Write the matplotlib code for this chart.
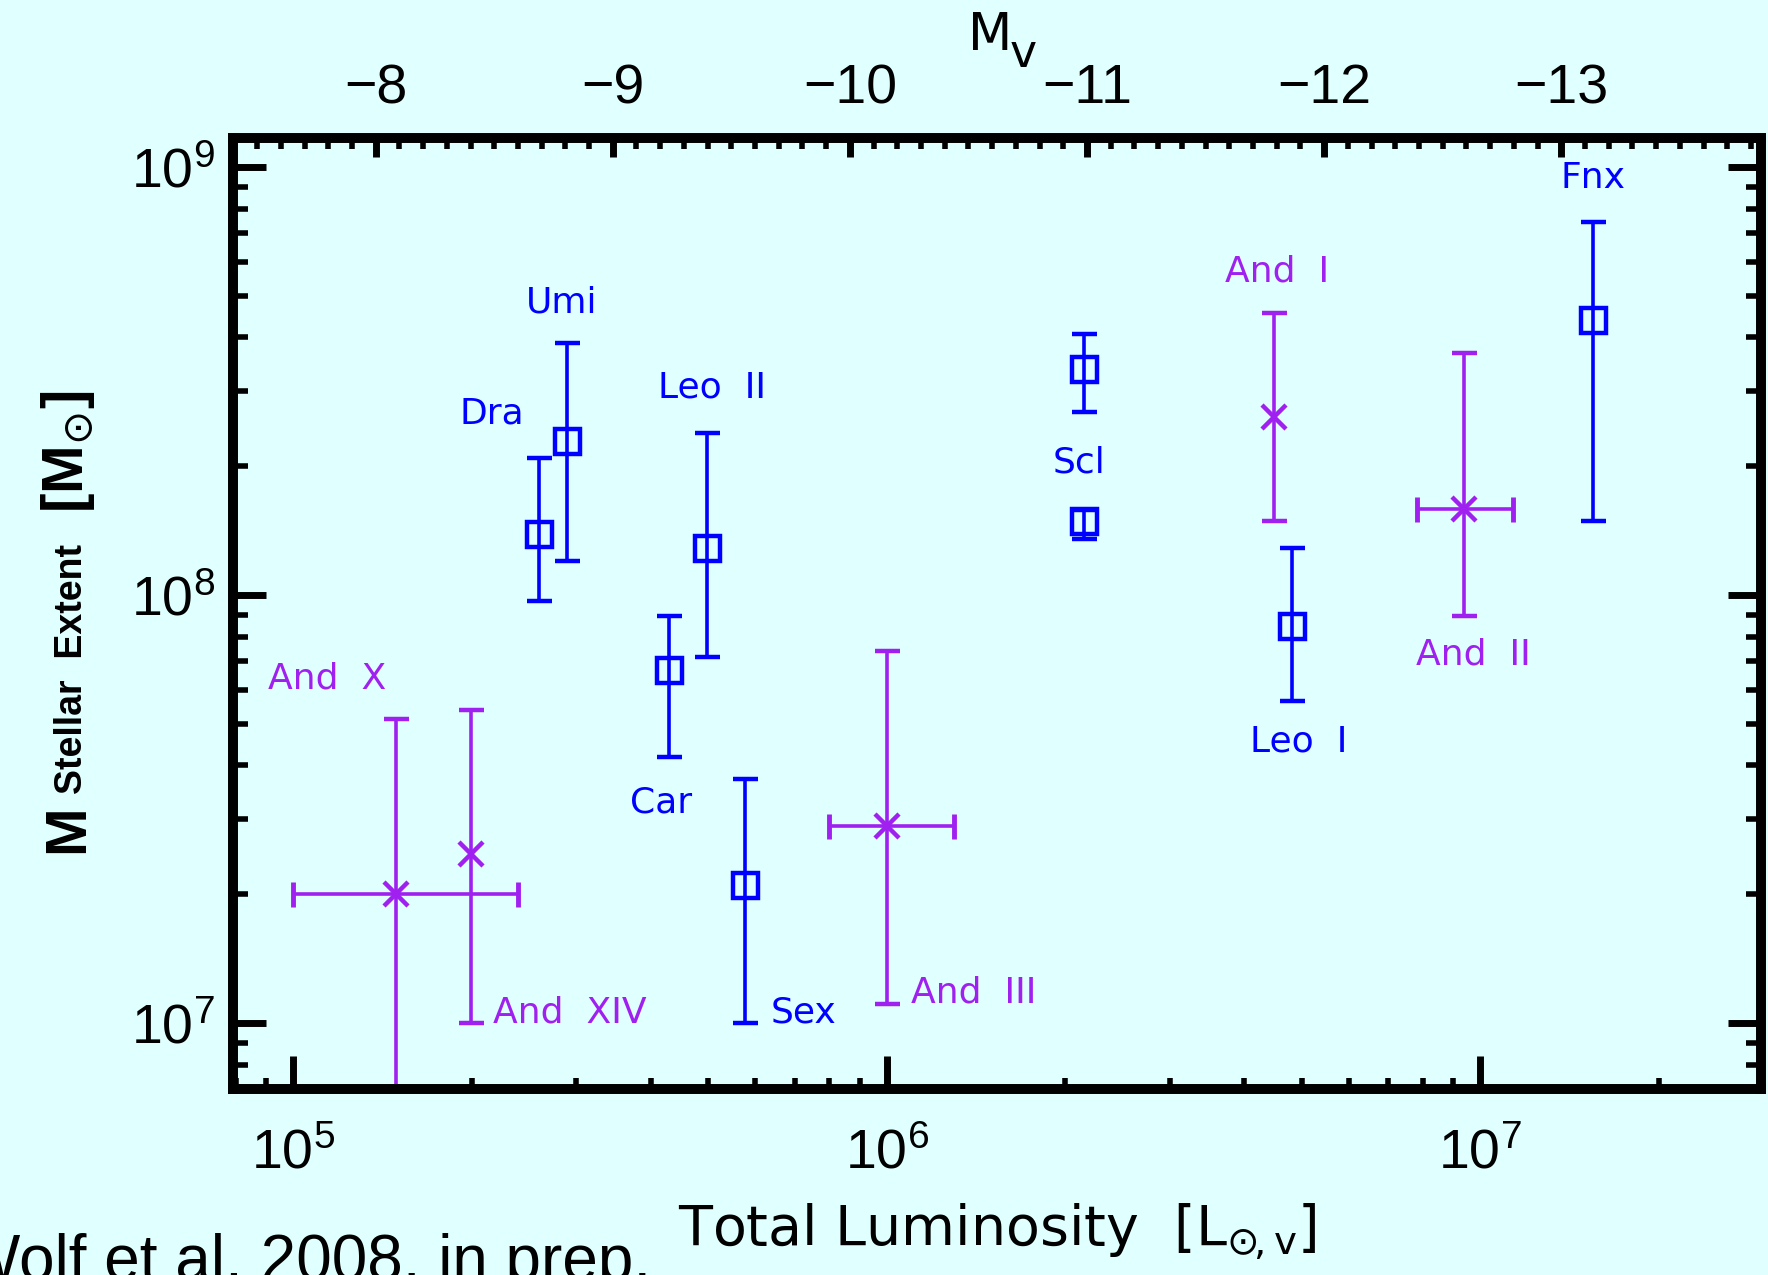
import numpy as np
import matplotlib
matplotlib.use('Agg')
import matplotlib.pyplot as plt
from matplotlib.ticker import NullFormatter

plt.rcParams['font.family'] = 'Liberation Sans'

# Milky Way dSphs (blue squares): luminosity [L_sun,V], mass and its error range [M_sun]
mw_lum = [2.60e5, 2.89e5, 4.29e5, 4.98e5, 5.76e5, 2.15e6, 2.15e6, 4.82e6, 1.55e7]
mw_mass = [1.39e8, 2.29e8, 6.68e7, 1.29e8, 2.10e7, 3.38e8, 1.49e8, 8.46e7, 4.38e8]
mw_mass_hi = [2.09e8, 3.88e8, 8.94e7, 2.39e8, 3.71e7, 4.07e8, 1.58e8, 1.29e8, 7.43e8]
mw_mass_lo = [9.70e7, 1.20e8, 4.19e7, 7.18e7, 1.00e7, 2.68e8, 1.35e8, 5.67e7, 1.49e8]

# M31 dSphs (purple crosses): And X, And XIV, And III, And I, And II
m31_lum = [1.49e5, 1.99e5, 1.00e6, 4.49e6, 9.37e6]
m31_lum_lo = [1.00e5, 1.99e5, 7.98e5, 4.49e6, 7.83e6]
m31_lum_hi = [2.39e5, 1.99e5, 1.297e6, 4.49e6, 1.135e7]
m31_mass = [2.00e7, 2.48e7, 2.89e7, 2.60e8, 1.59e8]
m31_mass_hi = [5.12e7, 5.40e7, 7.41e7, 4.57e8, 3.67e8]
m31_mass_lo = [4.0e6, 1.00e7, 1.108e7, 1.49e8, 8.93e7]

# galaxy name labels
mw_labels = ['Umi', 'Dra', 'Leo  II', 'Car', 'Sex', 'Scl', 'Leo  I', 'Fnx']
mw_label_pos = [(2.83e5, 4.83e8), (2.16e5, 2.65e8), (5.07e5, 3.06e8), (4.16e5, 3.27e7),
                (7.24e5, 1.06e7), (2.11e6, 2.04e8), (4.94e6, 4.56e7), (1.55e7, 9.41e8)]
m31_labels = ['And  I', 'And  II', 'And  X', 'And  XIV', 'And  III']
m31_label_pos = [(4.55e6, 5.69e8), (9.75e6, 7.28e7), (1.14e5, 6.37e7), (2.92e5, 1.06e7),
                 (1.40e6, 1.18e7)]

# top axis: absolute V magnitude
mv_major = [-8, -9, -10, -11, -12, -13]
mv_minor = np.round(np.arange(-7.4, -13.85, -0.1), 1)
M_SUN_V = 4.84

bg = '#E0FFFF'
blue = '#0000FF'
purple = '#A020F0'


def mv_to_lum(mv):
    return 10 ** ((M_SUN_V - np.asarray(mv, dtype=float)) / 2.5)


fig = plt.figure(figsize=(17.68, 12.75), dpi=100, facecolor=bg)
ax = fig.add_axes([0.132, 0.1456, 0.864, 0.7464], facecolor=bg)
ax.set_xscale('log')
ax.set_yscale('log')
ax.set_xlim(7.93e4, 2.97e7)
ax.set_ylim(7.0e6, 1.171e9)

mw_mass_a = np.array(mw_mass)
ax.errorbar(mw_lum, mw_mass,
            yerr=[mw_mass_a - np.array(mw_mass_lo), np.array(mw_mass_hi) - mw_mass_a],
            fmt='s', mfc='none', mec=blue, ms=18, mew=3.2, ecolor=blue,
            elinewidth=2.6, capsize=9, capthick=3.5)

m31_lum_a = np.array(m31_lum)
m31_mass_a = np.array(m31_mass)
ax.errorbar(m31_lum, m31_mass,
            yerr=[m31_mass_a - np.array(m31_mass_lo), np.array(m31_mass_hi) - m31_mass_a],
            fmt='x', color=purple, ms=17, mew=3.2, ecolor=purple,
            elinewidth=2.6, capsize=9, capthick=3.5)
has_x = np.array(m31_lum_hi) > np.array(m31_lum_lo)
ax.errorbar(m31_lum_a[has_x], m31_mass_a[has_x],
            xerr=[(m31_lum_a - np.array(m31_lum_lo))[has_x],
                  (np.array(m31_lum_hi) - m31_lum_a)[has_x]],
            fmt='none', ecolor=purple, elinewidth=2.6, capsize=9, capthick=3.5)

for name, (x, y) in zip(mw_labels, mw_label_pos):
    ax.text(x, y, name, ha='center', va='center', fontsize=26, color=blue,
            family='DejaVu Sans')
for name, (x, y) in zip(m31_labels, m31_label_pos):
    ax.text(x, y, name, ha='center', va='center', fontsize=26, color=purple,
            family='DejaVu Sans')

# axes styling
for s in ax.spines.values():
    s.set_linewidth(7)
ax.tick_params(which='both', direction='in', top=False, right=True, colors='black')
ax.tick_params(which='major', length=24, width=5, labelsize=40)
ax.tick_params(which='minor', length=11, width=4)
ax.tick_params(axis='x', which='minor', length=8)
ax.tick_params(axis='x', pad=28)
ax.tick_params(axis='y', pad=13)

# top axis in M_V, ticks placed at the matching luminosities
ax2 = ax.twiny()
ax2.set_xscale('log')
ax2.set_xlim(ax.get_xlim())
ax2.set_xticks(mv_to_lum(mv_major), ['\u2212%d' % -m for m in mv_major])
ax2.set_xticks(mv_to_lum(mv_minor), minor=True)
ax2.xaxis.set_minor_formatter(NullFormatter())
ax2.tick_params(which='both', direction='in', top=True, bottom=False)
ax2.tick_params(which='major', length=14, width=5, labelsize=40, pad=16)
ax2.tick_params(which='minor', length=8, width=4)
for s in ax2.spines.values():
    s.set_linewidth(7)

ax.set_xlabel(r'Total Luminosity  [L$_{\odot\!,\mathrm{v}}$]', fontsize=40,
              family='DejaVu Sans')
ax.xaxis.set_label_coords(0.5, -0.117)

W, H = 1768.0, 1275.0

# top label M_v, letters placed separately
fig.text(968 / W, 1 - 50 / H, 'M', fontsize=37, family='DejaVu Sans',
         ha='left', va='baseline')
fig.text(1010 / W, 1 - 67 / H, 'v', fontsize=33, family='DejaVu Sans',
         ha='left', va='baseline')

# y label built from pieces: big M, smaller subscript, unit
ylab = dict(rotation=90, rotation_mode='anchor', ha='left', va='baseline',
            fontweight='bold')
fig.text(83 / W, 1 - 853 / H, 'M', fontsize=42, **ylab)
fig.text(82 / W, 1 - 794 / H, 'Stellar  Extent', fontsize=27, **ylab)
fig.text(83 / W, 1 - 513 / H, r'[M$_{\odot}$]', fontsize=42, **ylab)

fig.text(-40 / W, -5 / H, 'Wolf et al. 2008, in prep.', fontsize=46,
         ha='left', va='baseline')

fig.savefig('out.png', dpi=100, facecolor=bg)
